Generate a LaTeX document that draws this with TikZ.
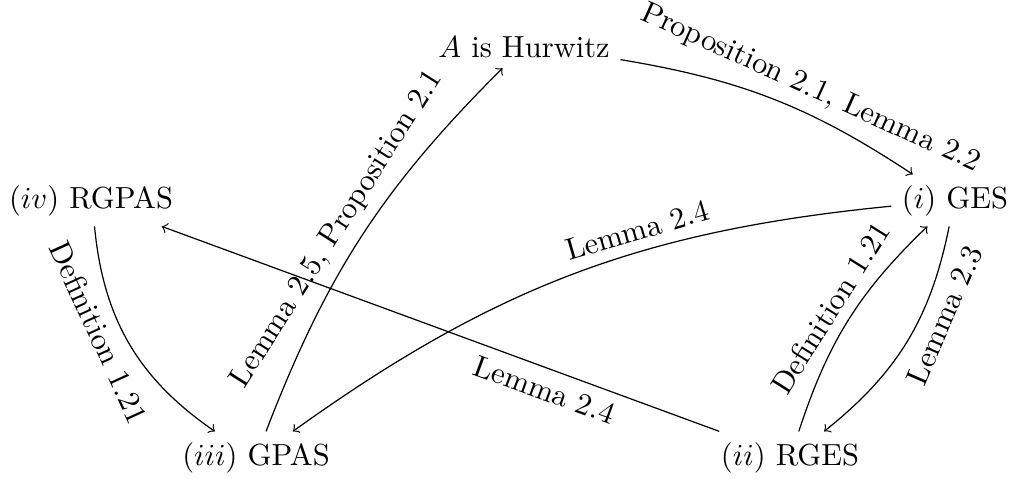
\documentclass[tikz,border=0pt]{standalone}
\begin{document}
\begin{tikzpicture}[x=0.3279pt,y=0.3279pt,
  st/.style={anchor=base},
  lbl/.style={sloped}]
\useasboundingbox (0,0) rectangle (1014,-478);
\node[st] (hur) at (524,-57) {$A$ is Hurwitz};
\node[st] (ges) at (955,-208) {$(i)$ GES};
\node[st] (rgpas) at (91,-208) {$(iv)$ RGPAS};
\node[st] (gpas) at (256,-465) {$(iii)$ GPAS};
\node[st] (rges) at (790,-465) {$(ii)$ RGES};
\draw[->] (hur) to[bend left=12] node[lbl,above,pos=0.6] {Proposition 2.1, Lemma 2.2} (ges);
\draw[->] (gpas) to[bend left=12] node[lbl,above,pos=0.48] {Lemma 2.5, Proposition 2.1} (hur);
\draw[->] (rgpas) to[bend right=25] node[lbl,below,pos=0.4] {Definition 1.21} (gpas);
\draw[->] (ges) to[bend right=15] node[lbl,above,pos=0.38] {Lemma 2.4} (gpas);
\draw[->] (rges) -- node[lbl,below,pos=0.3] {Lemma 2.4} (rgpas);
\draw[->] (ges) to[bend left=20] node[lbl,below,pos=0.33] {Lemma 2.3} (rges);
\draw[->] (rges) to[bend left=14] node[lbl,above] {Definition 1.21} (ges);
\end{tikzpicture}
\end{document}
